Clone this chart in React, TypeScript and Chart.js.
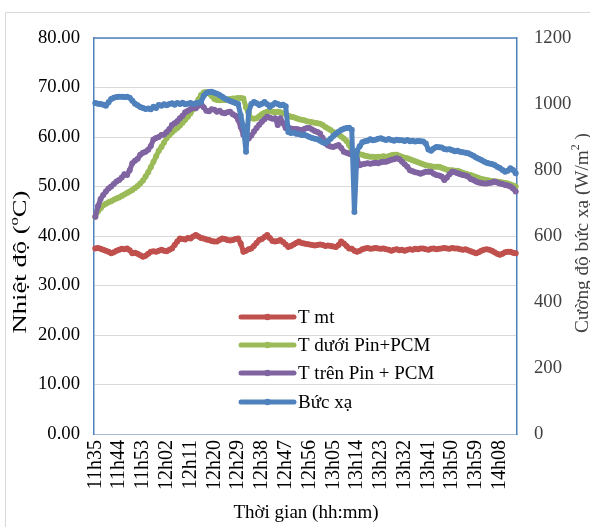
import React, { useEffect, useRef } from "react";
import { Chart, registerables } from "chart.js";

Chart.register(...registerables);

const timeLabels = [
  "11h35","11h36","11h37","11h38","11h39","11h40","11h41","11h42","11h43","11h44",
  "11h45","11h46","11h47","11h48","11h49","11h50","11h51","11h52","11h53","11h54",
  "11h55","11h56","11h57","11h58","11h59","12h00","12h01","12h02","12h03","12h04",
  "12h05","12h06","12h07","12h08","12h09","12h10","12h11","12h12","12h13","12h14",
  "12h15","12h16","12h17","12h18","12h19","12h20","12h21","12h22","12h23","12h24",
  "12h25","12h26","12h27","12h28","12h29","12h30","12h31","12h32","12h33","12h34",
  "12h35","12h36","12h37","12h38","12h39","12h40","12h41","12h42","12h43","12h44",
  "12h45","12h46","12h47","12h48","12h49","12h50","12h51","12h52","12h53","12h54",
  "12h55","12h56","12h57","12h58","12h59","13h00","13h01","13h02","13h03","13h04",
  "13h05","13h06","13h07","13h08","13h09","13h10","13h11","13h12","13h13","13h14",
  "13h15","13h16","13h17","13h18","13h19","13h20","13h21","13h22","13h23","13h24",
  "13h25","13h26","13h27","13h28","13h29","13h30","13h31","13h32","13h33","13h34",
  "13h35","13h36","13h37","13h38","13h39","13h40","13h41","13h42","13h43","13h44",
  "13h45","13h46","13h47","13h48","13h49","13h50","13h51","13h52","13h53","13h54",
  "13h55","13h56","13h57","13h58","13h59","14h00","14h01","14h02","14h03","14h04",
  "14h05","14h06","14h07","14h08","14h09","14h10","14h11","14h12","14h13","14h14",
];

// Nhiệt độ môi trường (°C)
const tMoiTruong = [
  37.5, 37.6, 37.4, 37.2, 37.0, 36.8, 36.5, 36.7, 37.0, 37.2,
  37.4, 37.3, 37.5, 37.1, 36.5, 36.6, 36.4, 36.1, 35.8, 36.0,
  36.4, 36.8, 36.9, 36.8, 37.0, 37.2, 37.0, 36.9, 37.2, 37.5,
  38.2, 38.9, 39.5, 39.4, 39.3, 39.6, 39.5, 39.9, 40.2, 39.9,
  39.6, 39.5, 39.3, 39.2, 39.0, 38.9, 38.9, 39.2, 39.5, 39.4,
  39.2, 39.1, 39.2, 39.4, 39.5, 38.5, 36.8, 37.0, 37.3, 37.5,
  38.0, 38.6, 39.2, 39.4, 39.8, 40.2, 39.6, 39.0, 38.9, 39.0,
  39.2, 38.8, 38.3, 37.8, 38.0, 38.3, 38.6, 38.9, 38.6, 38.5,
  38.4, 38.3, 38.2, 38.1, 38.2, 38.3, 38.2, 38.0, 38.1, 38.0,
  37.9, 37.8, 38.2, 38.9, 38.5, 38.0, 37.5, 37.4, 37.0, 36.8,
  37.0, 37.3, 37.5, 37.6, 37.4, 37.5, 37.6, 37.5, 37.4, 37.5,
  37.3, 37.2, 37.0, 37.2, 37.3, 37.1, 37.2, 37.0, 37.2, 37.3,
  37.2, 37.4, 37.3, 37.5, 37.5, 37.3, 37.2, 37.4, 37.5, 37.3,
  37.4, 37.5, 37.6, 37.5, 37.4, 37.6, 37.5, 37.5, 37.3, 37.2,
  37.3, 37.1, 36.9, 36.7, 36.5, 36.7, 37.0, 37.2, 37.3, 37.2,
  37.0, 36.7, 36.4, 36.2, 36.4, 36.7, 36.8, 36.8, 36.6, 36.5,
];

// Nhiệt độ dưới Pin+PCM (°C)
const tDuoiPin = [
  43.9, 45.0, 45.6, 46.2, 46.5, 46.8, 47.0, 47.3, 47.6, 47.8,
  48.1, 48.4, 48.7, 49.0, 49.3, 49.7, 50.1, 50.6, 51.2, 52.0,
  52.9, 53.9, 55.0, 56.1, 57.2, 58.0, 58.9, 59.8, 60.4, 60.9,
  61.4, 61.8, 62.3, 62.9, 63.5, 64.1, 64.8, 65.6, 66.6, 67.6,
  68.5, 69.0, 69.1, 68.8, 68.3, 67.7, 67.5, 67.4, 67.5, 67.5,
  67.6, 67.7, 67.8, 67.8, 67.9, 67.9, 67.8, 66.0, 64.6, 63.8,
  63.7, 63.8, 64.2, 64.6, 64.9, 65.1, 65.2, 65.1, 65.0, 65.1,
  65.0, 64.8, 64.6, 64.3, 64.1, 64.0, 63.8, 63.6, 63.5, 63.4,
  63.2, 63.1, 63.0, 62.9, 62.8, 62.7, 62.4, 62.0, 61.7, 61.4,
  61.0, 60.8, 60.5, 60.1, 59.7, 59.2, 58.4, 57.3, 56.9, 56.7,
  56.5, 56.4, 56.2, 56.1, 56.0, 56.0, 55.9, 56.0, 56.0, 56.1,
  56.0, 56.1, 56.3, 56.4, 56.4, 56.2, 56.0, 55.8, 55.7, 55.5,
  55.3, 55.1, 54.9, 54.7, 54.5, 54.3, 54.2, 54.1, 54.0, 54.0,
  54.0, 53.8, 53.6, 53.4, 53.3, 53.3, 53.2, 53.2, 53.0, 52.8,
  52.6, 52.4, 52.3, 52.1, 51.9, 51.7, 51.5, 51.4, 51.3, 51.2,
  51.1, 51.0, 51.0, 50.9, 50.8, 50.7, 50.6, 50.4, 50.2, 50.0,
];

// Nhiệt độ trên Pin + PCM (°C)
const tTrenPin = [
  43.9, 46.0, 47.5, 48.3, 49.0, 49.6, 50.0, 50.5, 51.0, 51.3,
  51.8, 52.5, 52.3, 53.3, 54.7, 55.2, 55.6, 56.4, 56.8, 57.0,
  57.4, 58.2, 59.5, 59.8, 60.0, 60.4, 60.5, 61.0, 61.6, 62.4,
  62.8, 63.2, 63.8, 64.3, 65.0, 65.3, 65.6, 66.0, 65.8, 66.3,
  66.8, 66.0, 65.3, 65.2, 65.6, 65.5, 65.1, 65.3, 64.9, 64.8,
  65.0, 65.1, 64.6, 64.3, 63.5, 62.0, 60.4, 59.9, 59.7, 60.3,
  61.1, 61.8, 62.5, 63.1, 63.6, 64.1, 63.9, 63.7, 63.8, 62.4,
  63.8, 62.8, 61.8, 61.9, 61.7, 61.6, 61.6, 61.5, 61.4, 61.6,
  61.8, 61.8, 61.5, 61.2, 61.0, 60.7, 59.8, 58.7, 58.3, 58.1,
  58.0, 58.2, 58.4, 57.8, 57.0, 56.8, 56.6, 56.4, 56.2, 55.5,
  54.3, 54.5, 54.6, 54.7, 54.6, 54.7, 54.8, 54.7, 54.9, 55.0,
  55.0, 55.2, 55.4, 55.5, 55.7, 55.5, 55.0, 54.5, 54.0, 53.3,
  53.1, 52.9, 52.8, 52.6, 52.8, 53.0, 53.0, 53.0, 52.6, 52.3,
  52.2, 52.0, 51.3, 51.8, 52.5, 53.0, 52.9, 52.7, 52.5, 52.3,
  52.2, 52.0, 51.5, 51.3, 51.0, 50.8, 50.7, 50.6, 50.6, 50.7,
  50.8, 51.0, 50.8, 50.6, 50.5, 50.3, 50.2, 50.0, 49.6, 49.0,
];

// Cường độ bức xạ (W/m²)
const bucXa = [
  1003, 1001, 1000, 998, 995, 1005, 1015, 1019, 1021, 1022,
  1022, 1021, 1022, 1019, 1010, 1001, 996, 991, 988, 985,
  986, 984, 992, 988, 997, 995, 999, 996, 1000, 1002,
  998, 1003, 1000, 1004, 999, 1001, 1003, 1000, 1002, 1004,
  1006, 1025, 1033, 1036, 1037, 1034, 1031, 1027, 1022, 1017,
  1013, 1009, 1006, 1003, 1000, 965, 930, 855, 975, 1000,
  1006, 1002, 997, 1001, 1006, 999, 992, 997, 1003, 1000,
  996, 998, 993, 915, 912, 914, 910, 909, 906, 907,
  904, 900, 897, 895, 893, 889, 884, 882, 888, 895,
  903, 910, 916, 921, 925, 927, 928, 922, 673, 858,
  872, 884, 887, 889, 893, 890, 892, 895, 896, 893,
  891, 894, 891, 889, 892, 890, 890, 888, 891, 887,
  889, 886, 888, 887, 886, 880, 862, 858, 865, 870,
  869, 868, 864, 862, 863, 860, 857, 858, 855, 854,
  852, 851, 847, 843, 838, 834, 830, 826, 822, 820,
  818, 815, 810, 806, 800, 795, 798, 805, 800, 790,
];

const seriesNames = ["T mt", "T dưới Pin+PCM", "T trên Pin + PCM", "Bức xạ"];
const seriesColors = ["#C0504D", "#9BBB59", "#8064A2", "#4F81BD"];
const labelEvery = 9;

const SERIF = "'Liberation Serif', 'Times New Roman', serif";

type Seg = { t: string; sup?: boolean };

function drawRich(
  ctx: CanvasRenderingContext2D,
  segs: Seg[],
  x: number,
  y: number,
  size: number,
  color: string,
  targetLen: number | null,
  rotate: boolean
) {
  ctx.save();
  ctx.translate(x, y);
  if (rotate) ctx.rotate(-Math.PI / 2);
  const fontFor = (s: Seg) => `${s.sup ? size * 0.62 : size}px ${SERIF}`;
  const widths = segs.map((s) => {
    ctx.font = fontFor(s);
    return ctx.measureText(s.t).width;
  });
  const total = widths.reduce((a, b) => a + b, 0);
  const sx = targetLen ? targetLen / total : 1;
  ctx.scale(sx, 1);
  ctx.fillStyle = color;
  ctx.textAlign = "left";
  ctx.textBaseline = "alphabetic";
  let cx = -total / 2;
  segs.forEach((s, i) => {
    ctx.font = fontFor(s);
    const base = size * 0.34;
    ctx.fillText(s.t, cx, s.sup ? base - size * 0.42 : base);
    cx += widths[i];
  });
  ctx.restore();
}

const decorPlugin = {
  id: "decor",
  beforeDraw(chart: any) {
    const ctx = chart.ctx as CanvasRenderingContext2D;
    ctx.save();
    ctx.fillStyle = "#ffffff";
    ctx.fillRect(0, 0, chart.width, chart.height);
    ctx.strokeStyle = "#D9D9D9";
    ctx.lineWidth = 1;
    ctx.beginPath();
    ctx.moveTo(5.5, chart.height + 2);
    ctx.lineTo(5.5, 12.5);
    ctx.lineTo(chart.width + 2, 12.5);
    ctx.stroke();
    ctx.restore();
  },
  afterDraw(chart: any) {
    const ctx = chart.ctx as CanvasRenderingContext2D;
    const a = chart.chartArea;
    ctx.save();
    ctx.strokeStyle = "#4F81BD";
    ctx.lineWidth = 1.5;
    ctx.beginPath();
    ctx.moveTo(a.left, a.top);
    ctx.lineTo(a.right, a.top);
    ctx.stroke();

    const rows = [317, 345, 373, 402];
    seriesNames.forEach((name, i) => {
      const y = rows[i];
      ctx.strokeStyle = seriesColors[i];
      ctx.lineWidth = 5;
      ctx.lineCap = "round";
      ctx.beginPath();
      ctx.moveTo(241, y);
      ctx.lineTo(294, y);
      ctx.stroke();
      ctx.fillStyle = seriesColors[i];
      ctx.beginPath();
      ctx.arc(267.5, y, 3.2, 0, Math.PI * 2);
      ctx.fill();
      ctx.fillStyle = "#000000";
      ctx.font = `19px ${SERIF}`;
      ctx.textAlign = "left";
      ctx.textBaseline = "middle";
      ctx.fillText(name, 298, y + 1);
    });
    ctx.restore();

    drawRich(ctx, [{ t: "Nhiệt độ (" }, { t: "o", sup: true }, { t: "C)" }], 20, 262, 19, "#000000", 143, true);
    drawRich(
      ctx,
      [{ t: "Cường độ bức xạ (W/m" }, { t: "2", sup: true }, { t: " )" }],
      581,
      233,
      19.5,
      "#404040",
      200,
      true
    );
    drawRich(ctx, [{ t: "Thời gian (hh:mm)" }], 306, 512, 19, "#000000", null, false);
  },
};

export default function App() {
  const canvasRef = useRef<HTMLCanvasElement | null>(null);

  useEffect(() => {
    if (!canvasRef.current) return;
    const mk = (i: number, data: number[], axis: string, order: number) => ({
      label: seriesNames[i],
      data,
      yAxisID: axis,
      borderColor: seriesColors[i],
      backgroundColor: seriesColors[i],
      pointBackgroundColor: seriesColors[i],
      pointBorderWidth: 0,
      pointRadius: 3,
      borderWidth: 5,
      borderJoinStyle: "round",
      borderCapStyle: "round",
      tension: 0,
      fill: false,
      order,
    });
    const chart = new Chart(canvasRef.current, {
      type: "line",
      data: {
        labels: timeLabels,
        datasets: [
          mk(0, tMoiTruong, "y", 4),
          mk(1, tDuoiPin, "y", 3),
          mk(2, tTrenPin, "y", 2),
          mk(3, bucXa, "y1", 1),
        ],
      },
      options: {
        animation: false,
        responsive: false,
        maintainAspectRatio: false,
        layout: { padding: { top: 38, left: 0, right: 0, bottom: 0 } },
        plugins: {
          legend: { display: false },
          tooltip: { enabled: false },
          title: { display: false },
        },
        scales: {
          x: {
            type: "category",
            offset: true,
            grid: { display: false, drawTicks: false },
            border: { display: true, color: "#A7B9D3", width: 1 },
            ticks: {
              autoSkip: false,
              maxRotation: 90,
              minRotation: 90,
              padding: 6,
              color: "#000000",
              font: { family: SERIF, size: 20 },
              callback: (_v: any, i: number) => (i % labelEvery === 0 ? timeLabels[i] : ""),
            },
            afterFit: (s: any) => {
              s.height = 93;
            },
          },
          y: {
            position: "left",
            min: 0,
            max: 80,
            grid: { color: "#D9D9D9", lineWidth: 1, drawTicks: false },
            border: { display: true, color: "#4F81BD", width: 1.5 },
            ticks: {
              stepSize: 10,
              padding: 14,
              color: "#000000",
              font: { family: SERIF, size: 18.7 },
              callback: (v: any) => Number(v).toFixed(2),
            },
            afterFit: (s: any) => {
              s.width = 94;
            },
          },
          y1: {
            position: "right",
            min: 0,
            max: 1200,
            grid: { display: false, drawTicks: false },
            border: { display: true, color: "#4F81BD", width: 1.5 },
            ticks: {
              stepSize: 200,
              padding: 17,
              color: "#404040",
              font: { family: SERIF, size: 18.7 },
              callback: (v: any) => String(v),
            },
            afterFit: (s: any) => {
              s.width = 73;
            },
          },
        },
      },
      plugins: [decorPlugin],
    } as any);
    return () => chart.destroy();
  }, []);

  return (
    <div style={{ position: "fixed", left: 0, top: 0, width: 590, height: 527 }}>
      <canvas ref={canvasRef} width={590} height={527} style={{ display: "block", width: 590, height: 527 }} />
    </div>
  );
}
